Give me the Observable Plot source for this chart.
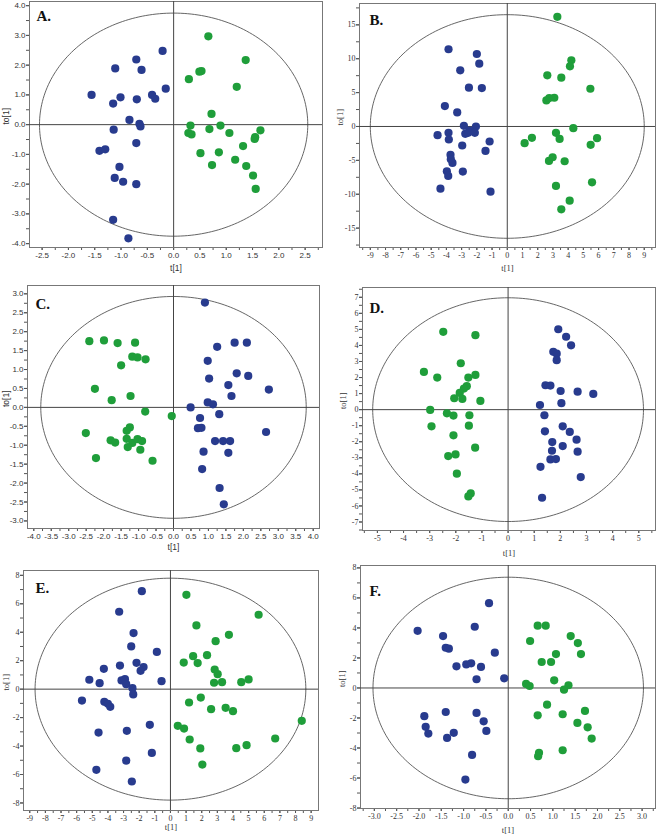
<!DOCTYPE html>
<html><head><meta charset="utf-8">
<script src="https://cdn.jsdelivr.net/npm/d3@7"></script>
<script src="https://cdn.jsdelivr.net/npm/@observablehq/plot@0.6"></script>
<style>
body{margin:0;background:#fff;}
#wrap{position:relative;width:659px;height:839px;overflow:hidden;background:#fff;}
.panel{position:absolute;}
.panel svg{overflow:visible;}
</style></head><body><div id="wrap"></div>
<script>
// ---- Panel A ----
const aBlue = [[-0.21,2.48],[-0.71,2.19],[-1.11,1.89],[-0.61,1.84],[-0.15,1.21],[-1.56,1.0],[-1.01,0.92],[-0.41,1.0],[-0.35,0.87],[-0.70,0.85],[-1.15,0.71],[-0.84,0.16],[-0.65,0.03],[-0.63,-0.06],[-1.14,-0.17],[-0.71,-0.62],[-1.41,-0.88],[-1.30,-0.83],[-1.03,-1.42],[-1.12,-1.79],[-0.96,-1.92],[-0.71,-2.0],[-1.15,-3.20],[-0.86,-3.82]];
const aGreen = [[0.66,2.97],[1.37,2.17],[0.49,1.78],[0.53,1.80],[0.29,1.53],[1.20,1.27],[0.72,0.36],[0.32,-0.03],[0.68,-0.15],[0.89,-0.03],[1.65,-0.19],[0.28,-0.28],[0.34,-0.33],[1.06,-0.28],[1.55,-0.42],[1.54,-0.48],[1.32,-0.72],[0.51,-0.96],[0.86,-0.93],[0.73,-1.36],[1.17,-1.18],[1.38,-1.39],[1.51,-1.71],[1.56,-2.16]];
const aXTicks = [-2.5,-2.0,-1.5,-1.0,-0.5,0,0.5,1.0,1.5,2.0,2.5];
const aYTicks = [-4,-3,-2,-1,0,1,2,3,4];

// ---- Panel B ----
const bBlue = [[-3.86,11.4],[-2.0,10.7],[-1.84,9.27],[-3.09,8.29],[-2.52,5.72],[-1.67,5.67],[-4.10,3.01],[-3.29,2.07],[-2.85,0.10],[-2.06,0],[-4.58,-1.28],[-3.86,-0.94],[-3.84,-1.92],[-2.76,-1.09],[-2.48,-0.59],[-2.57,-0.94],[-2.13,-0.94],[-1.16,-2.22],[-2.96,-2.81],[-1.43,-3.60],[-3.73,-4.19],[-3.71,-4.83],[-3.60,-5.38],[-2.92,-6.66],[-3.97,-6.61],[-3.88,-7.30],[-4.39,-9.18],[-1.10,-9.62]];
const bGreen = [[3.29,16.18],[4.21,9.77],[4.12,8.88],[2.63,7.55],[3.55,7.20],[5.46,5.57],[2.57,3.85],[2.76,4.19],[3.09,4.24],[4.34,-0.25],[3.20,-0.94],[1.62,-1.68],[3.44,-1.83],[5.90,-1.73],[1.14,-2.47],[5.48,-2.71],[2.74,-5.08],[2.98,-4.54],[3.77,-5.13],[5.57,-8.24],[3.20,-8.78],[4.10,-10.95],[3.55,-12.23]];
const bXTicks = [-9,-8,-7,-6,-5,-4,-3,-2,-1,0,1,2,3,4,5,6,7,8,9];
const bYTicks = [-15,-10,-5,0,5,10,15];

// ---- Panel C ----
const cGreen = [[-2.41,1.75],[-1.99,1.77],[-1.60,1.70],[-1.10,1.71],[-1.18,1.34],[-1.03,1.32],[-0.80,1.27],[-1.50,1.11],[-2.25,0.49],[-1.77,0.19],[-1.23,0.30],[-0.81,-0.11],[-0.05,-0.23],[-1.25,-0.53],[-1.34,-0.62],[-2.51,-0.68],[-1.80,-0.87],[-1.67,-0.93],[-1.34,-0.83],[-1.18,-0.94],[-1.03,-0.84],[-0.90,-0.89],[-1.31,-1.05],[-0.95,-1.12],[-2.22,-1.34],[-0.60,-1.41]];
const cBlue = [[0.90,2.77],[1.25,1.60],[1.75,1.71],[2.10,1.71],[0.98,1.23],[1.81,0.90],[2.14,0.83],[1.02,0.76],[1.57,0.59],[2.73,0.47],[1.66,0.30],[0.98,0.13],[1.13,0.08],[0.49,0],[1.31,-0.18],[0.76,-0.28],[0.70,-0.55],[0.80,-0.54],[2.65,-0.65],[1.19,-0.89],[1.42,-0.89],[1.62,-0.89],[0.86,-1.17],[1.57,-1.20],[0.82,-1.63],[1.32,-2.13],[1.44,-2.56]];
const cXTicks = [-4.0,-3.5,-3.0,-2.5,-2.0,-1.5,-1.0,-0.5,0,0.5,1.0,1.5,2.0,2.5,3.0,3.5,4.0];
const cYTicks = [-3.0,-2.5,-2.0,-1.5,-1.0,-0.5,0,0.5,1.0,1.5,2.0,2.5,3.0];

// ---- Panel D ----
const dGreen = [[-2.48,4.85],[-1.25,4.64],[-1.81,2.89],[-3.22,2.35],[-2.71,2.0],[-1.25,2.16],[-1.52,2.0],[-1.58,1.46],[-1.69,1.31],[-1.85,1.04],[-2.06,0.71],[-1.75,0.67],[-1.06,0.54],[-2.98,-0.02],[-2.34,-0.23],[-2.09,-0.37],[-1.48,-0.35],[-2.93,-1.04],[-1.50,-1.0],[-2.09,-1.60],[-1.26,-2.37],[-2.29,-2.89],[-2.01,-2.79],[-1.96,-3.99],[-1.43,-5.22],[-1.52,-5.41]];
const dBlue = [[1.92,5.01],[2.22,4.54],[2.41,4.01],[1.73,3.60],[1.86,3.49],[1.86,3.08],[1.43,1.52],[1.62,1.50],[2.01,1.16],[2.66,1.12],[3.26,0.98],[1.22,0.29],[2.04,0.40],[1.39,-0.35],[2.09,-1.04],[1.41,-1.35],[2.36,-1.39],[1.69,-2.02],[2.62,-1.87],[2.09,-2.27],[1.68,-2.56],[2.66,-2.62],[1.62,-3.10],[1.83,-3.08],[1.24,-3.56],[2.78,-4.20],[1.30,-5.49]];
const dXTicks = [-5,-4,-3,-2,-1,0,1,2,3,4,5];
const dYTicks = [-7,-6,-5,-4,-3,-2,-1,0,1,2,3,4,5,6,7];

// ---- Panel E ----
const eBlue = [[-1.83,6.89],[-3.28,5.44],[-2.36,3.94],[-2.51,3.0],[-0.87,2.62],[-2.17,1.85],[-3.23,1.66],[-1.72,1.55],[-1.91,1.29],[-4.26,1.43],[-5.19,0.66],[-3.13,0.61],[-2.91,0.70],[-2.83,0.35],[-0.57,0.56],[-4.53,0.42],[-2.43,0.07],[-2.38,-0.37],[-5.66,-0.80],[-4.23,-0.89],[-4.0,-1.03],[-3.85,-1.24],[-1.32,-2.51],[-2.79,-2.93],[-4.60,-3.05],[-1.19,-4.48],[-2.83,-5.02],[-4.74,-5.67],[-2.47,-6.49]];
const eGreen = [[1.02,6.63],[5.64,5.23],[1.66,4.48],[3.74,3.82],[2.89,3.37],[1.45,2.32],[2.34,2.39],[0.85,1.87],[1.74,1.83],[2.83,1.38],[3.02,1.05],[5.0,0.68],[4.53,0.49],[2.79,0.45],[3.30,0.49],[1.94,-0.59],[1.19,-0.94],[2.60,-1.41],[3.53,-1.31],[4.0,-1.55],[8.40,-2.23],[0.47,-2.58],[0.87,-2.77],[1.23,-3.54],[6.70,-3.47],[4.87,-3.94],[4.21,-4.15],[1.91,-4.17],[2.04,-5.30]];
const eXTicks = [-9,-8,-7,-6,-5,-4,-3,-2,-1,0,1,2,3,4,5,6,7,8,9];
const eYTicks = [-8,-6,-4,-2,0,2,4,6,8];

// ---- Panel F ----
const fBlue = [[-0.43,5.65],[-2.03,3.81],[-0.75,4.08],[-1.46,3.46],[-1.40,2.68],[-1.33,2.62],[-0.30,2.35],[-1.16,1.44],[-0.94,1.57],[-0.83,1.64],[-0.61,1.40],[-0.71,0.58],[-0.09,0.64],[-1.40,-1.60],[-0.71,-1.66],[-1.88,-1.88],[-0.55,-2.22],[-1.85,-2.59],[-0.49,-2.86],[-1.79,-3.04],[-1.22,-2.99],[-1.37,-3.33],[-0.81,-4.46],[-0.96,-6.10]];
const fGreen = [[0.66,4.15],[0.84,4.15],[1.40,3.46],[1.56,2.99],[0.49,3.13],[1.07,2.26],[1.63,2.26],[0.75,1.73],[0.96,1.73],[1.03,0.51],[0.40,0.27],[0.48,0.13],[1.35,0.18],[1.25,-0.11],[0.87,-1.11],[0.66,-1.82],[1.22,-1.75],[1.72,-1.53],[1.55,-2.33],[1.78,-2.62],[1.87,-3.37],[1.22,-4.15],[0.69,-4.32],[0.67,-4.55]];
const fXTicks = [-3.0,-2.5,-2.0,-1.5,-1.0,-0.5,0,0.5,1.0,1.5,2.0,2.5,3.0];
const fYTicks = [-8,-6,-4,-2,0,2,4,6,8];

// Hotelling ellipse semi-axes [x, y] per panel
const ellA = [2.55, 3.75], ellB = [9.0, 16.5], ellC = [3.8, 2.93], ellD = [5.18, 6.97], ellE = [8.66, 7.8], ellF = [3.03, 7.38];

const BLUE = "#283b8e", GREEN = "#1f9e3a";
const SANS = "Liberation Sans, Arial, sans-serif";
const SERIF = "Liberation Serif, Times New Roman, serif";

const fmt1 = d => (d < -1e-9 ? "-" : "") + Math.abs(d).toFixed(1);
const fmt0 = d => (d < -1e-9 ? "-" : "") + Math.abs(d).toFixed(0);

function minor(domain, step) {
  const out = [];
  for (let v = Math.ceil(domain[0] / step - 1e-9) * step; v <= domain[1] + 1e-9; v += step) out.push(+v.toFixed(6));
  return out;
}
function ellipse([a, b]) {
  const pts = [];
  for (let i = 0; i <= 240; i++) { const t = i / 240 * 2 * Math.PI; pts.push({x: a * Math.cos(t), y: b * Math.sin(t)}); }
  return pts;
}

function panel(o) {
  const chart = Plot.plot({
    width: o.w, height: o.h,
    marginTop: o.m[0], marginRight: o.m[1], marginBottom: o.m[2], marginLeft: o.m[3],
    x: {domain: o.xd}, y: {domain: o.yd},
    style: {fontFamily: o.font, fontSize: "8px", color: "#333", background: "white"},
    marks: [
      Plot.axisX({ticks: minor(o.xd, o.xs), tickSize: 3, tickFormat: () => "", label: null, stroke: "#555"}),
      Plot.axisX({ticks: o.xt, tickSize: 3, tickPadding: 2, tickFormat: o.fx, label: null, stroke: "#555", fill: "#333"}),
      Plot.axisY({ticks: minor(o.yd, o.ys), tickSize: 3, tickFormat: () => "", label: null, stroke: "#555"}),
      Plot.axisY({ticks: o.yt, tickSize: 3, tickPadding: 1, tickFormat: o.fy, label: null, stroke: "#555", fill: "#333"}),
      Plot.frame({stroke: "#777"}),
      Plot.line(ellipse(o.ell), {x: "x", y: "y", stroke: "#555", strokeWidth: 0.9}),
      Plot.ruleX([0], {stroke: "#444", strokeWidth: 1}),
      Plot.ruleY([0], {stroke: "#444", strokeWidth: 1}),
      Plot.dot(o.blue, {x: d => d[0], y: d => d[1], r: 4.1, fill: BLUE}),
      Plot.dot(o.green, {x: d => d[0], y: d => d[1], r: 4.1, fill: GREEN}),
      Plot.text([o.label], {frameAnchor: "top-left", dx: o.lp[0], dy: o.lp[1], textAnchor: "start", lineAnchor: "bottom", fontSize: 15, fontWeight: "bold", fontFamily: SERIF, fill: "#111"}),
      Plot.text([o.label], {text: () => "t[1]", frameAnchor: "bottom", dy: o.xl, lineAnchor: "middle", fill: "#333333", fontSize: 8.5}),
      Plot.text([o.label], {text: () => "to[1]", frameAnchor: "left", dx: -o.yl, rotate: -90, lineAnchor: "middle", fill: "#333333", fontSize: 8.5})
    ]
  });
  const div = document.createElement("div");
  div.className = "panel";
  div.style.left = o.left + "px";
  div.style.top = o.top + "px";
  div.appendChild(chart);
  document.getElementById("wrap").appendChild(div);
}

panel({label: "A.", left: 0, top: 0, w: 330, h: 280, m: [1, 8, 33, 29], xd: [-2.74, 2.83], yd: [-4.13, 4.14], xt: aXTicks, yt: aYTicks, xs: 0.25, ys: 0.5, fx: fmt1, fy: fmt1, blue: aBlue, green: aGreen, ell: ellA, font: SANS, lp: [7, 19], xl: 21, yl: 23});
panel({label: "B.", left: 330, top: 0, w: 329, h: 280, m: [3, 4, 33, 29], xd: [-9.71, 9.74], yd: [-17.86, 18.15], xt: bXTicks, yt: bYTicks, xs: 0.5, ys: 2.5, fx: fmt0, fy: fmt0, blue: bBlue, green: bGreen, ell: ellB, font: SERIF, lp: [10, 21], xl: 21, yl: 19});
panel({label: "C.", left: 0, top: 280, w: 330, h: 280, m: [5, 11, 32, 27], xd: [-4.18, 4.18], yd: [-3.20, 3.22], xt: cXTicks, yt: cYTicks, xs: 0.25, ys: 0.25, fx: fmt1, fy: fmt1, blue: cBlue, green: cGreen, ell: ellC, font: SANS, lp: [8, 23], xl: 19, yl: 21});
panel({label: "D.", left: 330, top: 280, w: 329, h: 280, m: [7, 4, 30, 32], xd: [-5.57, 5.64], yd: [-7.53, 7.61], xt: dXTicks, yt: dYTicks, xs: 0.5, ys: 0.5, fx: fmt0, fy: fmt0, blue: dBlue, green: dGreen, ell: ellD, font: SERIF, lp: [7, 25], xl: 23, yl: 19});
panel({label: "E.", left: 0, top: 560, w: 330, h: 279, m: [10, 12, 29, 23], xd: [-9.40, 9.47], yd: [-8.53, 8.34], xt: eXTicks, yt: eYTicks, xs: 0.5, ys: 1, fx: fmt0, fy: fmt0, blue: eBlue, green: eGreen, ell: ellE, font: SERIF, lp: [12, 22], xl: 17, yl: 17});
panel({label: "F.", left: 330, top: 560, w: 329, h: 279, m: [5, 4, 31, 30], xd: [-3.31, 3.30], yd: [-8.03, 8.16], xt: fXTicks, yt: fYTicks, xs: 0.25, ys: 1, fx: fmt1, fy: fmt0, blue: fBlue, green: fGreen, ell: ellF, font: SERIF, lp: [9, 30], xl: 22, yl: 18});
</script></body></html>
